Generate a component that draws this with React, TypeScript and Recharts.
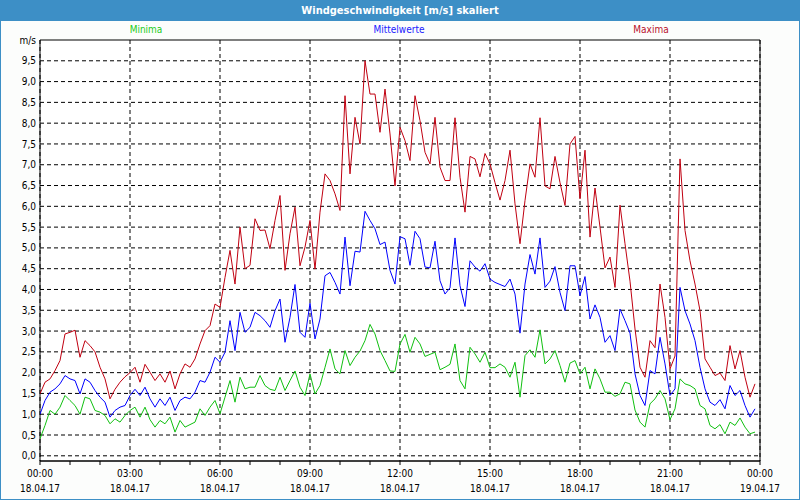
import React from 'react';
import { LineChart, Line, XAxis, YAxis, CartesianGrid, ReferenceArea } from 'recharts';

const minima = [
  0.41, 0.73, 1.09, 1.0, 1.17, 1.45, 1.33, 1.21, 1.0, 1.41, 1.37, 1.09, 1.05, 0.97, 0.77, 0.89, 0.81, 0.97, 1.09, 1.17,
  0.93, 1.17, 0.87, 0.69, 0.85, 0.77, 0.93, 0.57, 0.85, 0.69, 0.75, 0.81, 1.13, 0.97, 1.17, 1.33, 1.01, 1.41, 1.81, 1.29,
  1.89, 1.61, 1.65, 1.65, 1.93, 1.69, 1.6, 1.57, 1.89, 1.57, 1.81, 2.04, 1.65, 1.45, 1.97, 1.49, 1.69, 2.13, 2.57, 2.09,
  1.97, 2.53, 2.17, 2.37, 2.52, 2.77, 3.16, 2.93, 2.53, 2.29, 2.04, 2.03, 2.69, 2.92, 2.49, 2.85, 2.69, 2.39, 2.44, 2.49,
  2.07, 2.13, 2.2, 2.69, 1.81, 1.61, 2.61, 2.45, 2.25, 2.49, 2.12, 2.12, 2.21, 2.13, 1.89, 2.25, 1.41, 2.41, 2.55, 2.37,
  3.03, 2.21, 2.33, 2.53, 2.17, 1.77, 2.23, 2.29, 1.97, 2.13, 1.61, 2.09, 1.85, 1.53, 1.53, 1.43, 1.49, 1.77, 1.73, 1.1,
  0.81, 0.69, 1.25, 1.37, 1.57, 1.37, 0.87, 1.13, 1.85, 1.73, 1.69, 1.61, 1.21, 1.13, 0.73, 0.65, 0.75, 0.53, 0.81, 0.73,
  0.91, 0.69, 0.53, 0.57,
];

const mittelwerte = [
  1.0, 1.33, 1.53, 1.61, 1.73, 1.93, 1.85, 1.81, 1.49, 1.85, 1.77, 1.57, 1.41, 1.29, 0.93, 1.09, 1.17, 1.21, 1.45, 1.6,
  1.45, 1.65, 1.37, 1.17, 1.37, 1.21, 1.41, 1.09, 1.33, 1.41, 1.37, 1.53, 1.81, 1.77, 2.01, 2.37, 2.25, 2.49, 3.25, 2.53,
  3.45, 2.97, 3.09, 3.45, 3.37, 3.25, 3.09, 3.49, 3.77, 2.73, 3.33, 4.12, 2.97, 2.85, 3.67, 2.81, 3.29, 4.33, 4.41, 4.17,
  3.89, 5.26, 4.09, 4.92, 4.9, 5.88, 5.66, 5.46, 5.08, 5.14, 4.46, 4.13, 5.27, 5.22, 4.58, 5.4, 5.22, 4.54, 4.52, 5.16,
  4.21, 3.89, 4.04, 5.24, 4.09, 3.59, 4.69, 4.54, 4.44, 4.62, 4.25, 4.17, 4.12, 4.07, 4.25, 3.89, 2.95, 4.13, 4.84, 4.37,
  5.24, 4.05, 4.2, 4.55, 3.93, 3.49, 4.57, 4.57, 3.85, 4.31, 3.29, 3.63, 3.33, 2.73, 2.89, 2.53, 3.53, 3.25, 2.95, 1.97,
  1.45, 1.21, 2.05, 1.97, 2.85, 2.21, 1.45, 1.61, 4.05, 3.49, 3.17, 2.77, 2.13, 1.61, 1.29, 1.21, 1.35, 1.13, 1.69, 1.45,
  1.57, 1.21, 0.93, 1.13,
];

const maxima = [
  1.49, 1.77, 1.85, 2.05, 2.29, 2.93, 2.97, 3.02, 2.37, 2.77, 2.65, 2.5, 2.13, 1.85, 1.37, 1.6, 1.77, 1.9, 2.0, 2.13,
  1.77, 2.2, 2.01, 1.81, 1.97, 1.77, 2.04, 1.61, 1.97, 2.21, 2.13, 2.33, 2.69, 3.01, 3.13, 3.65, 3.57, 4.29, 4.94, 4.13,
  5.5, 4.5, 4.58, 5.7, 5.42, 5.43, 4.98, 5.66, 6.26, 4.46, 5.34, 5.98, 4.57, 5.02, 5.66, 4.49, 5.86, 6.78, 6.62, 6.3,
  5.9, 8.66, 6.78, 8.14, 7.5, 9.5, 8.7, 8.7, 7.78, 8.82, 7.74, 6.49, 7.9, 7.58, 7.1, 8.66, 8.06, 7.3, 7.02, 8.14,
  6.94, 6.62, 6.62, 8.13, 6.7, 5.86, 7.2, 7.14, 6.71, 7.27, 7.02, 6.57, 6.15, 6.62, 7.35, 6.06, 5.1, 6.14, 7.02, 6.7,
  8.13, 6.49, 6.42, 7.2, 6.57, 6.02, 7.5, 7.68, 6.18, 7.35, 5.26, 6.44, 5.5, 4.52, 4.78, 4.05, 6.03, 5.1, 4.2, 3.05,
  2.13, 1.89, 2.77, 2.6, 4.13, 3.33, 2.09, 2.4, 7.14, 5.42, 4.69, 4.13, 3.49, 2.33, 2.13, 1.93, 1.99, 1.81, 2.65, 2.09,
  2.53, 1.89, 1.41, 1.73,
];

const yTickValues = [0, 0.5, 1, 1.5, 2, 2.5, 3, 3.5, 4, 4.5, 5, 5.5, 6, 6.5, 7, 7.5, 8, 8.5, 9, 9.5, 10];
const yTickLabels = ['0,0', '0,5', '1,0', '1,5', '2,0', '2,5', '3,0', '3,5', '4,0', '4,5', '5,0', '5,5', '6,0', '6,5', '7,0', '7,5', '8,0', '8,5', '9,0', '9,5', 'm/s'];
const gridValues = [0, 0.5, 1, 1.5, 2, 2.5, 3, 3.5, 4, 4.5, 5, 5.5, 6, 6.5, 7, 7.5, 8, 8.5, 9, 9.5];
const hourTicks = [0, 1, 2, 3, 4, 5, 6, 7, 8, 9, 10, 11, 12, 13, 14, 15, 16, 17, 18, 19, 20, 21, 22, 23, 24];
const majorHours = [0, 3, 6, 9, 12, 15, 18, 21, 24];
const timeLabels = ['00:00', '03:00', '06:00', '09:00', '12:00', '15:00', '18:00', '21:00', '00:00'];
const dateLabels = ['18.04.17', '18.04.17', '18.04.17', '18.04.17', '18.04.17', '18.04.17', '18.04.17', '18.04.17', '19.04.17'];

const title = 'Windgeschwindigkeit [m/s] skaliert';
const seriesNames = ['Minima', 'Mittelwerte', 'Maxima'];

const data = minima.map((v, i) => ({ t: i / 6, min: v, mean: mittelwerte[i], max: maxima[i] }));

const FONT = "Tahoma, 'DejaVu Sans Condensed', 'Liberation Sans', sans-serif";

const XTick = (props: any) => {
  const { x, y, payload } = props;
  const k = majorHours.indexOf(payload.value);
  if (k < 0) return <g />;
  return (
    <g>
      <text x={x} y={y + 10} textAnchor="middle" fontSize={10} fontFamily={FONT} fill="#000">{timeLabels[k]}</text>
      <text x={x} y={y + 25} textAnchor="middle" fontSize={10} fontFamily={FONT} fill="#000">{dateLabels[k]}</text>
    </g>
  );
};

export default function App() {
  return (
    <div style={{ position: 'absolute', left: 0, top: 0, width: 800, height: 500, background: '#fcfdfc', fontFamily: FONT }}>
      <LineChart width={800} height={500} data={data} margin={{ top: 40, right: 40, bottom: 0, left: 0 }}>
        <CartesianGrid stroke="#000" strokeDasharray="4 3" horizontalValues={gridValues} verticalValues={majorHours} fill="#ffffff" />
        <XAxis
          type="number"
          dataKey="t"
          domain={[0, 24]}
          ticks={hourTicks}
          interval={0}
          height={39}
          tickSize={4}
          tickMargin={2}
          stroke="#000"
          tick={<XTick />}
          allowDataOverflow
        />
        <YAxis
          type="number"
          domain={[-0.125, 10]}
          ticks={yTickValues}
          interval={0}
          width={40}
          axisLine={false}
          tickLine={false}
          tickSize={0}
          tickMargin={4}
          tick={{ fontSize: 10, fontFamily: FONT, fill: '#000' }}
          tickFormatter={(v: number, i: number) => yTickLabels[i]}
          allowDataOverflow
        />
        <ReferenceArea x1={0} x2={24} y1={-0.125} y2={10} fill="none" stroke="#000" strokeWidth={1} ifOverflow="visible" />
        <Line type="linear" dataKey="min" stroke="#10c010" strokeWidth={1} dot={false} isAnimationActive={false} />
        <Line type="linear" dataKey="mean" stroke="#0000ff" strokeWidth={1} dot={false} isAnimationActive={false} />
        <Line type="linear" dataKey="max" stroke="#c00010" strokeWidth={1} dot={false} isAnimationActive={false} />
      </LineChart>
      <div style={{ position: 'absolute', left: 0, top: 0, width: 800, height: 21, background: '#3d8fc6', color: '#fff', fontWeight: 'bold', fontSize: 11, lineHeight: '21px', textAlign: 'center' }}>
        {title}
      </div>
      <div style={{ position: 'absolute', left: 96, top: 24, width: 100, textAlign: 'center', fontSize: 10, color: '#22cc22' }}>{seriesNames[0]}</div>
      <div style={{ position: 'absolute', left: 349, top: 24, width: 100, textAlign: 'center', fontSize: 10, color: '#2020ff' }}>{seriesNames[1]}</div>
      <div style={{ position: 'absolute', left: 601, top: 24, width: 100, textAlign: 'center', fontSize: 10, color: '#b8102c' }}>{seriesNames[2]}</div>
      <div style={{ position: 'absolute', left: 0, top: 0, width: 800, height: 500, boxSizing: 'border-box', border: '1px solid #3d8fc6', pointerEvents: 'none' }} />
    </div>
  );
}
